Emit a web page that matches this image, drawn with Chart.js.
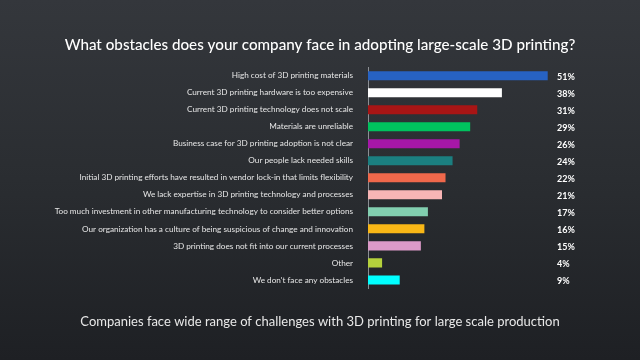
<!DOCTYPE html>
<html>
<head>
<meta charset="utf-8">
<script src="https://cdn.jsdelivr.net/npm/chart.js@4"></script>
<style>
html,body{margin:0;padding:0;}
body{width:640px;height:360px;background:linear-gradient(to bottom,#34373c 0%,#2a2d31 50%,#1e2024 100%);overflow:hidden;}
#wrap{width:640px;height:360px;position:relative;}
</style>
</head>
<body>
<div id="wrap"><canvas id="c" width="640" height="360"></canvas></div>
<script>
const categories = [
  "High cost of 3D printing materials",
  "Current 3D printing hardware is too expensive",
  "Current 3D printing technology does not scale",
  "Materials are unreliable",
  "Business case for 3D printing adoption is not clear",
  "Our people lack needed skills",
  "Initial 3D printing efforts have resulted in vendor lock-in that limits flexibility",
  "We lack expertise in 3D printing technology and processes",
  "Too much investment in other manufacturing technology to consider better options",
  "Our organization has a culture of being suspicious of change and innovation",
  "3D printing does not fit into our current processes",
  "Other",
  "We don't face any obstacles"
];
const values = [51, 38, 31, 29, 26, 24, 22, 21, 17, 16, 15, 4, 9];
const barColors = ["#2762c2","#ffffff","#a81515","#00c25e","#a617a8","#1b7f80","#f0684b","#f8b5b5","#82cfb0","#f9b716","#dc9ac8","#b5d13c","#00ffff"];
const titleText = "What obstacles does your company face in adopting large-scale 3D printing?";
const subtitleText = "Companies face wide range of challenges with 3D printing for large scale production";

const pctLabels = {
  id: 'pctLabels',
  afterDatasetsDraw(chart) {
    const ctx = chart.ctx;
    const meta = chart.getDatasetMeta(0);
    ctx.save();
    ctx.fillStyle = '#ffffff';
    ctx.font = 'bold 9px Lato';
    ctx.textAlign = 'left';
    ctx.textBaseline = 'middle';
    meta.data.forEach((el, i) => {
      ctx.fillText(values[i] + '%', chart.chartArea.right + 4, el.y + 1);
    });
    ctx.restore();
  }
};

new Chart(document.getElementById('c'), {
  type: 'bar',
  data: {
    labels: categories,
    datasets: [{
      data: values,
      backgroundColor: barColors,
      borderWidth: 0,
      barPercentage: 0.53,
      categoryPercentage: 1.0
    }]
  },
  options: {
    indexAxis: 'y',
    responsive: false,
    animation: false,
    layout: { padding: { left: 0, right: 0, top: 0, bottom: 0 } },
    plugins: {
      legend: { display: false },
      tooltip: { enabled: false },
      title: {
        display: true,
        text: titleText,
        color: '#ffffff',
        font: { family: 'Lato', size: 15.2, weight: '500' },
        padding: { top: 36, bottom: 13 }
      },
      subtitle: {
        display: true,
        position: 'bottom',
        text: subtitleText,
        color: '#e8e8e8',
        font: { family: 'Lato', size: 13, weight: '400' },
        padding: { top: 26, bottom: 30 }
      }
    },
    scales: {
      x: { display: false, min: 0, max: 52.5 },
      y: {
        afterFit(scale) { scale.width = 368; },
        grid: { display: false },
        border: { display: true, color: '#8c8f94', width: 1 },
        ticks: {
          color: '#e6e6e6',
          font: { family: 'Lato', size: 8.2 },
          padding: 7,
          autoSkip: false
        }
      },
      yRight: {
        position: 'right',
        afterFit(scale) { scale.width = 87; },
        grid: { display: false },
        border: { display: false },
        ticks: { display: false }
      }
    }
  },
  plugins: [pctLabels]
});
</script>
</body>
</html>
